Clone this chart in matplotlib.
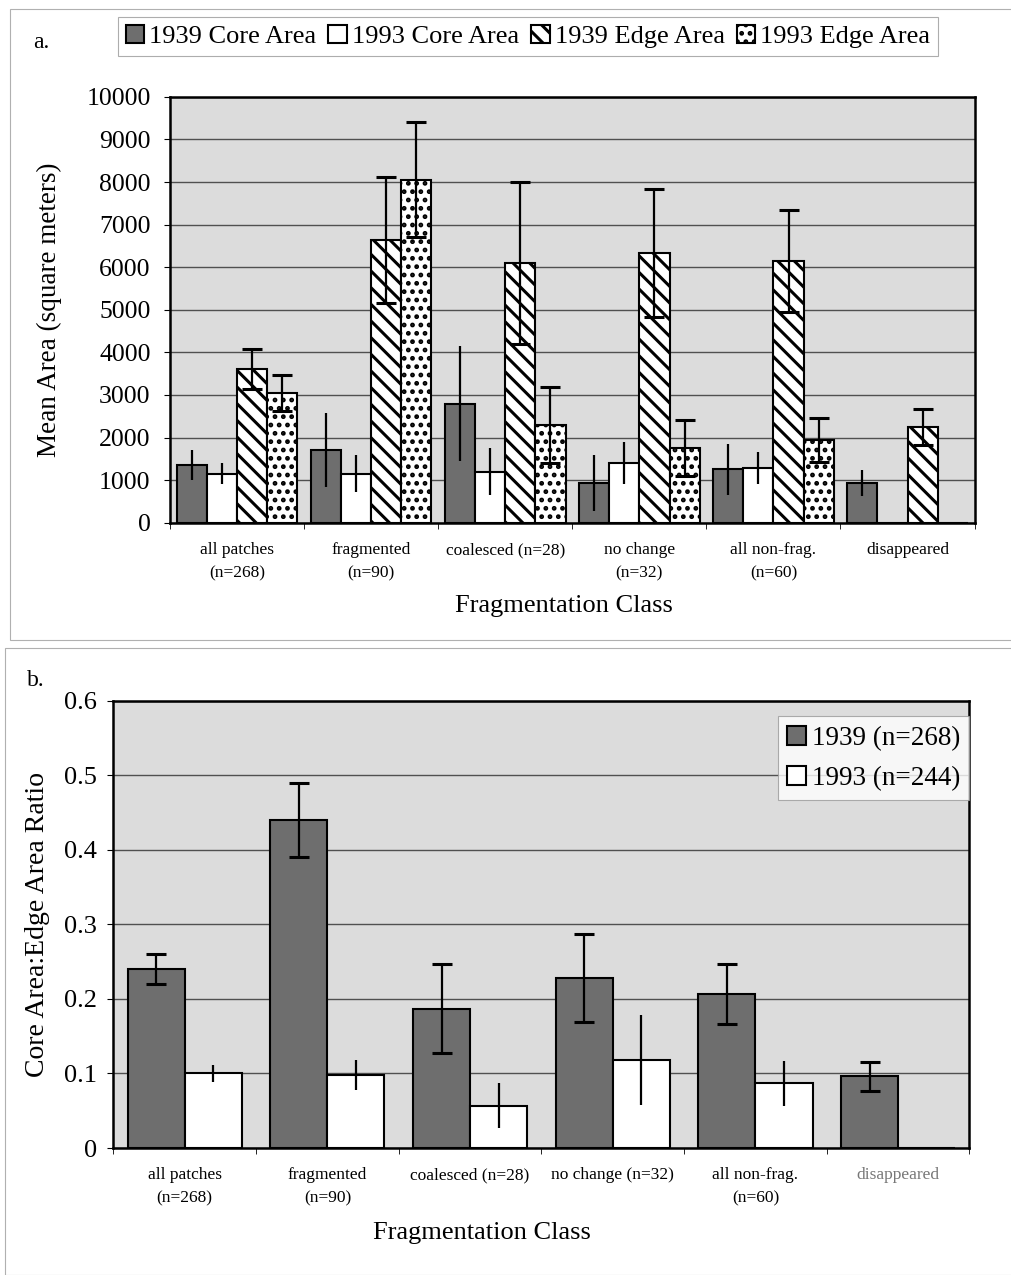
import numpy as np
import matplotlib
matplotlib.use('Agg')
import matplotlib.pyplot as plt
from matplotlib.patches import Rectangle

plt.rcParams['font.family'] = ['Liberation Serif', 'DejaVu Serif']
plt.rcParams['hatch.linewidth'] = 2.2

# panel a data (square meters)
classes_a = ['all patches\n(n=268)', 'fragmented\n(n=90)', 'coalesced (n=28)',
             'no change\n(n=32)', 'all non-frag.\n(n=60)', 'disappeared']
core39 = [1350, 1700, 2800, 930, 1260, 930]
core39_err = [350, 870, 1350, 650, 600, 300]
core93 = [1150, 1150, 1200, 1400, 1280, 0]
core93_err = [250, 430, 550, 490, 370, 0]
edge39 = [3600, 6650, 6100, 6340, 6150, 2250]
edge39_err = [470, 1480, 1900, 1500, 1200, 420]
edge93 = [3050, 8050, 2300, 1750, 1940, 0]
edge93_err = [430, 1350, 890, 660, 520, 0]

# panel b data (ratio)
classes_b = ['all patches\n(n=268)', 'fragmented\n(n=90)', 'coalesced (n=28)',
             'no change (n=32)', 'all non-frag.\n(n=60)', 'disappeared']
ratio39 = [0.240, 0.440, 0.187, 0.228, 0.207, 0.096]
ratio39_err = [0.020, 0.050, 0.060, 0.059, 0.040, 0.020]
ratio93 = [0.100, 0.098, 0.057, 0.118, 0.087, 0]
ratio93_err = [0.011, 0.020, 0.030, 0.060, 0.030, 0]

bg = '#dcdcdc'
dark = '#6e6e6e'

fig = plt.figure(figsize=(10.12, 12.75), dpi=100)

# panel frames
fig.patches.append(Rectangle((0.010, 0.498), 0.99, 0.495, transform=fig.transFigure,
                             fill=False, ec='#b0b0b0', lw=0.8))
fig.patches.append(Rectangle((0.005, 0.0), 0.995, 0.492, transform=fig.transFigure,
                             fill=False, ec='#b0b0b0', lw=0.8))


def errs(ax, x, y, e, cap):
    x = np.asarray(x); y = np.asarray(y); e = np.asarray(e)
    m = y > 0
    ax.errorbar(x[m], y[m], yerr=e[m], fmt='none', ecolor='black', elinewidth=1.6,
                capsize=cap, capthick=2.2, zorder=5)


def style(ax, n):
    ax.set_facecolor(bg)
    ax.yaxis.grid(True, color='#505050', lw=1.0)
    ax.set_axisbelow(True)
    for s in ax.spines.values():
        s.set_linewidth(1.8)
    ax.set_xlim(-0.5, n - 0.5)
    ax.set_xticks(np.arange(n))
    ax.set_xticks(np.arange(n + 1) - 0.5, minor=True)
    ax.tick_params(axis='x', which='major', length=0, pad=14, labelsize=12.5)
    ax.tick_params(axis='x', which='minor', length=4, direction='out')
    ax.tick_params(axis='y', length=4, direction='out', labelsize=18.5, pad=10)


# ---- panel a ----
ax1 = fig.add_axes([0.168, 0.590, 0.795, 0.334])
n = len(classes_a)
x = np.arange(n)
w = 0.225
ax1.bar(x - 1.5 * w, core39, w, color=dark, edgecolor='black', lw=1.5, label='1939 Core Area')
ax1.bar(x - 0.5 * w, core93, w, color='white', edgecolor='black', lw=1.5, label='1993 Core Area')
ax1.bar(x + 0.5 * w, edge39, w, color='white', edgecolor='black', lw=1.5, hatch='\\\\',
        label='1939 Edge Area')
ax1.bar(x + 1.5 * w, edge93, w, color='white', edgecolor='black', lw=1.5, hatch='..',
        label='1993 Edge Area')
errs(ax1, x - 1.5 * w, core39, core39_err, 0)
errs(ax1, x - 0.5 * w, core93, core93_err, 0)
errs(ax1, x + 0.5 * w, edge39, edge39_err, 7)
errs(ax1, x + 1.5 * w, edge93, edge93_err, 7)
style(ax1, n)
ax1.set_ylim(0, 10000)
ax1.set_yticks(np.arange(0, 10001, 1000))
ax1.set_xticklabels(classes_a, linespacing=1.6)
ax1.set_ylabel('Mean Area (square meters)', fontsize=19.5)
ax1.yaxis.set_label_coords(-0.134, 0.5)
ax1.set_xlabel('Fragmentation Class', fontsize=19)
ax1.xaxis.set_label_coords(0.49, -0.17)
leg1 = ax1.legend(loc='lower center', bbox_to_anchor=(0.445, 1.065), ncol=4, fontsize=19,
                  frameon=True, fancybox=False, edgecolor='#999999', handlelength=0.7,
                  handleheight=0.7, handletextpad=0.2, columnspacing=0.45,
                  borderpad=0.3)
leg1.get_frame().set_linewidth(0.8)
fig.text(0.033, 0.962, 'a.', fontsize=17)

# ---- panel b ----
ax2 = fig.add_axes([0.112, 0.0996, 0.846, 0.3508])
n = len(classes_b)
x = np.arange(n)
w = 0.4
ax2.bar(x - 0.5 * w, ratio39, w, color=dark, edgecolor='black', lw=1.5, label='1939 (n=268)')
ax2.bar(x + 0.5 * w, ratio93, w, color='white', edgecolor='black', lw=1.5, label='1993 (n=244)')
errs(ax2, x - 0.5 * w, ratio39, ratio39_err, 7)
errs(ax2, x + 0.5 * w, ratio93, ratio93_err, 0)
style(ax2, n)
ax2.tick_params(axis='y', labelsize=19, pad=8)
ax2.set_ylim(0, 0.6)
ax2.set_yticks(np.arange(0, 0.61, 0.1))
ax2.set_yticklabels(['0', '0.1', '0.2', '0.3', '0.4', '0.5', '0.6'])
ax2.set_xticklabels(classes_b, linespacing=1.6)
ax2.get_xticklabels()[-1].set_color('#777777')
ax2.set_ylabel('Core Area:Edge Area Ratio', fontsize=20)
ax2.yaxis.set_label_coords(-0.0735, 0.5)
ax2.set_xlabel('Fragmentation Class', fontsize=19)
ax2.xaxis.set_label_coords(0.43, -0.165)
leg2 = ax2.legend(loc='upper right', bbox_to_anchor=(1.0, 0.965), fontsize=19.5, frameon=True,
                  fancybox=False, edgecolor='#999999', handlelength=0.7, handleheight=0.7,
                  handletextpad=0.2, borderpad=0.35, labelspacing=0.55, borderaxespad=0)
leg2.get_frame().set_linewidth(0.8)
fig.text(0.027, 0.462, 'b.', fontsize=17)

plt.savefig('out.png', dpi=100)
